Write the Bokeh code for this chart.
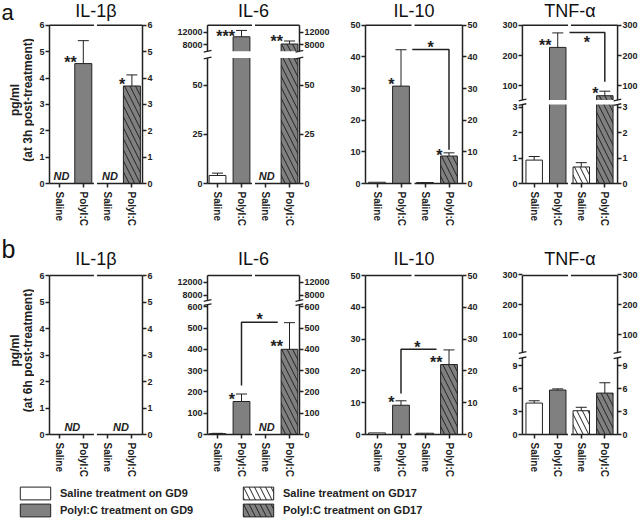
import math
from bokeh.plotting import figure
from bokeh.models import (Range1d, FixedTicker, LinearAxis, ColumnDataSource,
                          Whisker, TeeHead, Legend, LegendItem)
from bokeh.layouts import row, column
from bokeh.embed import file_html
from bokeh.resources import INLINE
from bokeh.core.properties import value

FONT = "Liberation Sans"
INK = "#222222"
GRAY = "#808080"

# ---------------- data ----------------
groups = ["Saline", "PolyI:C", "Saline", "PolyI:C"]
series_names = ["Saline treatment on GD9", "PolyI:C treatment on GD9",
                "Saline treatment on GD17", "PolyI:C treatment on GD17"]
cytokines = ["IL-1\u03b2", "IL-6", "IL-10", "TNF-\u03b1"]
ylabels_3h = ["pg/ml", "(at 3h post-treatment)"]
ylabels_6h = ["pg/ml", "(at 6h post-treatment)"]

# 3 h post-treatment (None = not detected)
il1b_3h = [None, 4.55, None, 3.70]
il1b_3h_err = [None, 0.87, None, 0.42]
il6_3h = [4.1, 10600, None, 8300]
il6_3h_err = [1.2, 2000, None, 950]
il10_3h = [0.4, 30.8, 0.3, 8.7]
il10_3h_err = [0.0, 11.5, 0.0, 1.0]
tnf_3h = [0.92, 227, 0.65, 67]
tnf_3h_err = [0.14, 48, 0.17, 15]

# 6 h post-treatment
il1b_6h = [None, None, None, None]
il1b_6h_err = [None, None, None, None]
il6_6h = [4.0, 155, None, 400]
il6_6h_err = [1.5, 35, None, 125]
il10_6h = [0.5, 9.2, 0.4, 22.0]
il10_6h_err = [0.0, 1.4, 0.0, 4.6]
tnf_6h = [4.1, 5.8, 3.1, 5.4]
tnf_6h_err = [0.3, 0.15, 0.45, 1.35]

# tick values
il1b_ticks = [0, 1, 2, 3, 4, 5, 6]
il6_3h_ticks = [0, 25, 50, 8000, 12000]
il10_ticks = [0, 10, 20, 30, 40, 50]
tnf_3h_ticks = [0, 1, 2, 3, 100, 200, 300]
il6_6h_ticks = [0, 100, 200, 300, 400, 500, 600, 8000, 12000]
tnf_6h_ticks = [0, 3, 6, 9, 100, 200, 300]

# "ND" (not detected) positions (category units)
il1b_3h_nd = [0.1, 2.1]
il6_3h_nd = [2.05]
il1b_6h_nd = [0.55, 2.55]
il6_6h_nd = [2.05]

# significance marks beside bars: (text, category, value)
il1b_3h_stars = [("**", 1, 4.74), ("*", 3, 3.89)]
il6_3h_stars = [("***", 1, 11900), ("**", 3, 10330)]
il10_3h_stars = [("*", 1, 32.7), ("*", 3, 10.0)]
tnf_3h_stars = [("**", 1, 247), ("*", 3, 86)]
il6_6h_stars = [("*", 1, 183), ("**", 3, 433)]
il10_6h_stars = [("*", 1, 11.4), ("**", 3, 24.0)]

# comparison brackets (category, value) and their marks
il10_3h_bracket_x = [1.47, 3, 3]
il10_3h_bracket_y = [42.4, 42.4, 10.7]
il10_3h_bracket_star = ("*", 2.23, 44.4)
tnf_3h_bracket_x = [1.5, 3, 3]
tnf_3h_bracket_y = [276, 276, 113]
tnf_3h_bracket_star = ("*", 2.24, 255)
il6_6h_bracket_x = [2.51, 1, 1]
il6_6h_bracket_y = [527, 527, 230]
il6_6h_bracket_star = ("*", 1.75, 559)
il10_6h_bracket_x = [2.48, 1, 1]
il10_6h_bracket_y = [26.8, 26.8, 12.9]
il10_6h_bracket_star = ("*", 1.68, 28.6)

# ---------------- layout / scale geometry (px) ----------------
E = 4                      # frame extends beyond the drawn axis lines
STRIP_W = 34               # left strip with panel letter and y-axis title
PANEL_START = [STRIP_W, 168, 338, 493]
PANEL_END = [168, 338, 493, 640]
# fb: canvas y of the frame bottom (zero line + E); frames start at the canvas top
ROWS = [dict(height=228, fb=188, title_cy=10.5, letter_cy=12.5, letter_size="22px", ylab_cy=100),
        dict(height=252, fb=210, title_cy=30.5, letter_cy=20.0, letter_size="25px", ylab_cy=122)]
LEGEND_H = 46
XGEO = [(58.5, 24.3, 49, 142), (217, 24, 207, 299),
        (376.5, 24, 365, 462), (534, 24, 522, 619)]
TOP_D = 159.0
STAR_DY = 4     # px: star glyph centre sits above the text middle
ND_DY = -8      # px: ND label centre above the axis line

SCALES = {
    "il1b": dict(segs=[(0, 0, 6, 159)], split=None, band=None),
    "il6_3h": dict(segs=[(0, 0, 50, 98.6), (8000, 139.3, 12000, 152.0)], split=64, band=(126.2, 133.0)),
    "il10": dict(segs=[(0, 0, 50, 159)], split=None, band=None),
    "tnf_3h": dict(segs=[(0, 0, 3, 76.8), (100, 98.3, 300, 159.0)], split=3.1, band=(79.4, 84.0)),
    "il6_6h": dict(segs=[(0, 0, 600, 127.8), (8000, 139.3, 12000, 152.3)], split=610, band=(129.9, 134.0)),
    "tnf_6h": dict(segs=[(0, 0, 9, 69.0), (100, 100.0, 300, 159.7)], split=10, band=(76.7, 82.0)),
}


def mapper(spec):
    segs, split = spec["segs"], spec["split"]

    def lin(seg, v):
        v0, d0, v1, d1 = seg
        return d0 + (v - v0) * (d1 - d0) / (v1 - v0)

    def f(v):
        if split is None or v <= split:
            return lin(segs[0], v)
        return lin(segs[1], v)
    return f


def style_axis(ax, size, standoff):
    ax.axis_line_color = None
    ax.major_tick_in = E
    ax.major_tick_out = 0
    ax.minor_tick_in = 0
    ax.minor_tick_out = 0
    ax.major_tick_line_color = INK
    ax.major_tick_line_width = 1.5
    ax.major_label_text_font = FONT
    ax.major_label_text_font_style = "bold"
    ax.major_label_text_font_size = size
    ax.major_label_text_color = INK
    ax.major_label_standoff = standoff


def make_strip(ri, letter, ylabs):
    rs = ROWS[ri]
    H, fb = rs["height"], rs["fb"]
    st = figure(width=STRIP_W, height=H, x_range=Range1d(0, STRIP_W),
                y_range=Range1d(H - fb, H),
                x_axis_location=None, y_axis_location=None, min_border=0,
                min_border_bottom=H - fb,
                output_backend="svg", toolbar_location=None, title=None,
                outline_line_color=None)
    st.grid.visible = False
    st.text(x=[1], y=[H - rs["letter_cy"]], text=[letter], text_align="left",
            text_baseline="middle", text_font=value(FONT), text_font_size=rs["letter_size"],
            text_color="#111111")
    st.text(x=[14, 27.5], y=[H - rs["ylab_cy"]] * 2, text=ylabs, angle=math.pi / 2,
            text_align="center", text_baseline="middle", text_font=value(FONT),
            text_font_size="12px", text_font_style="bold", text_color=INK)
    return st


def make_panel(ci, ri, title, scale_key, ticks, means, errs, nd=(), stars=(),
               bracket=None, bstar=None):
    spec = SCALES[scale_key]
    f = mapper(spec)
    band = spec["band"]
    cx0, cx1 = PANEL_START[ci], PANEL_END[ci]
    W = cx1 - cx0
    c0, sp, L, R = XGEO[ci]
    mbl = round(L - E - cx0)
    right_pos = round(R + E - cx0)
    fw = right_pos - mbl
    mbr = W - right_pos
    x0 = (cx0 + mbl - c0) / sp
    x1 = x0 + fw / sp
    rs = ROWS[ri]
    H, fb = rs["height"], rs["fb"]
    y0 = -E
    y1 = y0 + fb          # frame reaches the top of the canvas

    p = figure(width=W, height=H, x_range=Range1d(x0, x1), y_range=Range1d(y0, y1),
               min_border_left=mbl, min_border_right=mbr, min_border_top=0,
               min_border_bottom=H - fb, output_backend="svg", toolbar_location=None,
               title=None, outline_line_color=None)
    p.grid.visible = False
    Ld = x0 + E / sp
    Rd = x1 - E / sp

    # panel title
    p.text(x=[(Ld + Rd) / 2], y=[fb - E - rs["title_cy"]], text=[title],
           text_align="center", text_baseline="middle", text_font=value(FONT),
           text_font_size="18px", text_color="#111111")

    # x axis
    xa = p.xaxis[0]
    xa.ticker = FixedTicker(ticks=[0, 1, 2, 3])
    xa.major_label_overrides = {i: g for i, g in enumerate(groups)}
    xa.major_label_orientation = "vertical"
    style_axis(xa, "10px", 4)

    # y axes (left + right)
    dticks = [round(f(t), 4) for t in ticks]
    overrides = {d: str(t) for d, t in zip(dticks, ticks)}
    ya = p.yaxis[0]
    ya.ticker = FixedTicker(ticks=dticks)
    ya.major_label_overrides = overrides
    style_axis(ya, "9px", 1)
    yr = LinearAxis(ticker=FixedTicker(ticks=dticks), major_label_overrides=overrides)
    style_axis(yr, "9px", 1)
    p.add_layout(yr, "right")

    # bars
    idx = [i for i in range(4) if means[i] is not None]
    fills = ["white", GRAY, "white", GRAY]
    hatches = [" ", " ", "\\", "\\"]
    if idx:
        src = ColumnDataSource(dict(x=idx, top=[f(means[i]) for i in idx],
                                    fill=[fills[i] for i in idx],
                                    hatch=[hatches[i] for i in idx]))
        p.vbar(x="x", top="top", bottom=0, width=0.7, source=src, fill_color="fill",
               line_color=INK, line_width=1, hatch_pattern="hatch", hatch_color=INK,
               hatch_scale=11, hatch_weight=1)

    # axis frame lines, with a gap between the GD9 and GD17 groups
    g = 1.5 / sp
    p.segment(x0=[Ld, Rd, Ld, 1.5 + g, Ld, 1.5 + g],
              y0=[0, 0, 0, 0, TOP_D, TOP_D],
              x1=[Ld, Rd, 1.5 - g, Rd, 1.5 - g, Rd],
              y1=[TOP_D, TOP_D, 0, 0, TOP_D, TOP_D],
              line_color=INK, line_width=1.5)

    # axis break
    if band:
        p.quad(left=x0, right=x1, bottom=band[0], top=band[1],
               fill_color="white", line_color=None)
        t = 4 / sp
        bx0, by0, bx1, by1 = [], [], [], []
        for ax_x in (Ld, Rd):
            for by in band:
                bx0.append(ax_x - t); bx1.append(ax_x + t)
                by0.append(by - 0.8); by1.append(by + 0.8)
        p.segment(x0=bx0, y0=by0, x1=bx1, y1=by1, line_color=INK, line_width=1.3)

    # error bars
    widx = [i for i in idx if errs[i]]
    if widx:
        wsrc = ColumnDataSource(dict(base=widx,
                                     upper=[f(means[i] + errs[i]) for i in widx],
                                     lower=[f(means[i] - errs[i]) for i in widx]))
        p.add_layout(Whisker(source=wsrc, base="base", upper="upper", lower="lower",
                             line_color=INK, line_width=1,
                             upper_head=TeeHead(size=11, line_color=INK, line_width=1),
                             lower_head=TeeHead(size=11, line_color=INK, line_width=1)))

    # brackets
    if bracket:
        p.line(x=bracket[0], y=[f(v) for v in bracket[1]], line_color=INK, line_width=1.5)
    if bstar:
        p.text(x=[bstar[1]], y=[f(bstar[2])], text=[bstar[0]], text_align="center",
               text_baseline="middle", y_offset=STAR_DY, text_font=value(FONT),
               text_font_size="16px", text_font_style="bold", text_color=INK)

    # stars beside bars
    if stars:
        p.text(x=[c - 0.27 for _, c, _ in stars], y=[f(v) for _, _, v in stars],
               text=[t for t, _, _ in stars], text_align="right",
               text_baseline="middle", y_offset=STAR_DY, text_font=value(FONT),
               text_font_size="16px", text_font_style="bold", text_color=INK)

    # ND labels
    if nd:
        p.text(x=list(nd), y=[0] * len(nd), text=["ND"] * len(nd), text_align="center",
               text_baseline="middle", y_offset=ND_DY, text_font=value(FONT),
               text_font_size="11px", text_font_style="bold italic", text_color=INK)
    return p


sa = make_strip(0, "a", ylabels_3h)
a1 = make_panel(0, 0, cytokines[0], "il1b", il1b_ticks, il1b_3h, il1b_3h_err,
                nd=il1b_3h_nd, stars=il1b_3h_stars)
a2 = make_panel(1, 0, cytokines[1], "il6_3h", il6_3h_ticks, il6_3h, il6_3h_err,
                nd=il6_3h_nd, stars=il6_3h_stars)
a3 = make_panel(2, 0, cytokines[2], "il10", il10_ticks, il10_3h, il10_3h_err,
                stars=il10_3h_stars, bracket=(il10_3h_bracket_x, il10_3h_bracket_y),
                bstar=il10_3h_bracket_star)
a4 = make_panel(3, 0, cytokines[3], "tnf_3h", tnf_3h_ticks, tnf_3h, tnf_3h_err,
                stars=tnf_3h_stars, bracket=(tnf_3h_bracket_x, tnf_3h_bracket_y),
                bstar=tnf_3h_bracket_star)

sb = make_strip(1, "b", ylabels_6h)
b1 = make_panel(0, 1, cytokines[0], "il1b", il1b_ticks, il1b_6h, il1b_6h_err,
                nd=il1b_6h_nd)
b2 = make_panel(1, 1, cytokines[1], "il6_6h", il6_6h_ticks, il6_6h, il6_6h_err,
                nd=il6_6h_nd, stars=il6_6h_stars,
                bracket=(il6_6h_bracket_x, il6_6h_bracket_y), bstar=il6_6h_bracket_star)
b3 = make_panel(2, 1, cytokines[2], "il10", il10_ticks, il10_6h, il10_6h_err,
                stars=il10_6h_stars, bracket=(il10_6h_bracket_x, il10_6h_bracket_y),
                bstar=il10_6h_bracket_star)
b4 = make_panel(3, 1, cytokines[3], "tnf_6h", tnf_6h_ticks, tnf_6h, tnf_6h_err)

# ---------------- legend ----------------
lg = figure(width=640, height=LEGEND_H, x_range=Range1d(0, 1), y_range=Range1d(0, 1),
            x_axis_location=None, y_axis_location=None, min_border=0,
            output_backend="svg", toolbar_location=None, title=None,
            outline_line_color=None)
lg.grid.visible = False
fills = ["white", GRAY, "white", GRAY]
hatches = [" ", " ", "\\", "\\"]
# legend proxies: one point each, placed outside the visible range
rends = [lg.vbar(x=[-5], top=[-5], width=0.5, fill_color=fills[i], line_color=INK,
                 line_width=1, hatch_pattern=hatches[i], hatch_color=INK,
                 hatch_scale=11, hatch_weight=1) for i in range(4)]
for k, loc in ((0, (16, 8)), (2, (239, 8))):
    leg = Legend(items=[LegendItem(label=series_names[k], renderers=[rends[k]]),
                        LegendItem(label=series_names[k + 1], renderers=[rends[k + 1]])],
                 location=loc, orientation="vertical", glyph_width=38, glyph_height=16,
                 label_height=16, spacing=1, padding=0, margin=0, label_standoff=6,
                 border_line_color=None, background_fill_alpha=0,
                 label_text_font=FONT, label_text_font_style="bold",
                 label_text_font_size="11px", label_text_color=INK)
    lg.add_layout(leg)

layout = column(row(sa, a1, a2, a3, a4), row(sb, b1, b2, b3, b4), lg)
open("out.html", "w").write(file_html(layout, INLINE, title="Cytokines"))
